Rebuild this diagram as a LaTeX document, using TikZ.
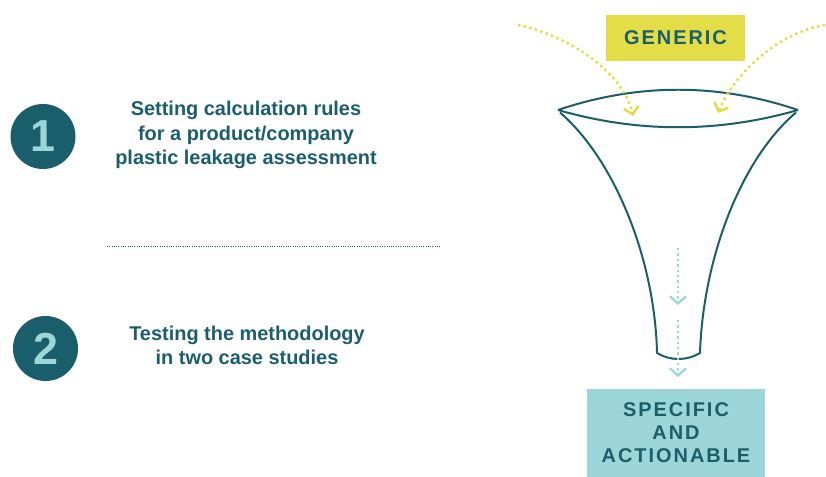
\documentclass[tikz,border=0pt]{standalone}
\usepackage{fontspec}
\setmainfont{Liberation Sans}
\newfontfamily\spacedfont[LetterSpace=10]{Liberation Sans}
\usetikzlibrary{arrows.meta}
\definecolor{darkteal}{HTML}{1B5E6B}
\definecolor{lightteal}{HTML}{9DD6D8}
\definecolor{mustard}{HTML}{E3DD47}
\tikzset{
  stepnum/.style={circle,fill=darkteal,minimum size=65bp,inner sep=0pt,text=lightteal,font=\bfseries\fontsize{45}{45}\selectfont},
  steptext/.style={align=center,text=darkteal,font=\bfseries\fontsize{20}{24.5}\selectfont},
  stagebox/.style={inner sep=0pt,text=darkteal,align=center,font=\spacedfont\bfseries\fontsize{20}{23}\selectfont},
  inflow/.style={mustard,line width=2.6pt,dash pattern=on 2.4pt off 3.4pt,-{Straight Barb[length=7bp,width=15bp,line width=2.6pt]}},
  outflow/.style={lightteal,line width=2.2pt,dash pattern=on 2.4pt off 3pt,-{Straight Barb[length=7bp,width=16bp,line width=2.4pt]}},
  funnel/.style={darkteal,line width=2pt},
}
\begin{document}
\begin{tikzpicture}[>=latex,line join=bevel,]
\useasboundingbox (0bp,0bp) rectangle (826bp,477bp);
%%
\node (step_1) at (43.0bp,340.5bp) [stepnum] {1};
  \node (step_2) at (45.5bp,128.5bp) [stepnum] {2};
  \node (text_1) at (246.0bp,342.0bp) [steptext] {Setting calculation rules\\for a product/company\\plastic leakage assessment};
  \node (text_2) at (247.0bp,131.5bp) [steptext] {Testing the methodology\\in two case studies};
  \coordinate (sep_a) at (107.0bp,230.3bp);
  \coordinate (sep_b) at (440.0bp,230.3bp);
  \draw [darkteal,line width=1.5pt,dash pattern=on 1pt off 1.3pt] (sep_a) -- (sep_b);
%
\node (generic) at (675.5bp,439.0bp) [stagebox,fill=mustard,minimum width=139bp,minimum height=46bp] {GENERIC};
  \node (specific) at (676.0bp,44.0bp) [stagebox,fill=lightteal,minimum width=178bp,minimum height=88bp] {SPECIFIC\\AND\\ACTIONABLE};
%
\coordinate (rim_w) at (558.0bp,367.0bp);
  \coordinate (rim_e) at (798.0bp,367.0bp);
  \coordinate (neck_w) at (657.0bp,124.0bp);
  \coordinate (neck_e) at (700.0bp,124.0bp);
  \draw [funnel] (rim_w) ..controls (638.0bp,394.0bp) and (718.0bp,394.0bp)  .. (rim_e);
  \draw [funnel] (rim_w) ..controls (638.0bp,344.0bp) and (718.0bp,344.0bp)  .. (rim_e);
  \draw [funnel] (560.0bp,364.5bp) ..controls (615.0bp,317.0bp) and (655.0bp,217.0bp)  .. (neck_w)
    ..controls (670.0bp,116.0bp) and (687.0bp,116.0bp)  .. (neck_e)
    ..controls (703.0bp,217.0bp) and (740.0bp,317.0bp)  .. (796.0bp,364.5bp);
%
\coordinate (in_w) at (518.0bp,452.0bp);
  \coordinate (in_w_end) at (633.0bp,361.0bp);
  \coordinate (in_e) at (825.0bp,452.0bp);
  \coordinate (in_e_end) at (718.0bp,364.0bp);
  \draw [inflow] (in_w) ..controls (575.0bp,440.0bp) and (625.0bp,400.0bp)  .. (in_w_end);
  \draw [inflow] (in_e) ..controls (780.0bp,445.0bp) and (735.0bp,405.0bp)  .. (in_e_end);
%
\coordinate (out_a) at (678.0bp,229.0bp);
  \coordinate (out_b) at (678.0bp,172.0bp);
  \coordinate (out_c) at (678.0bp,157.0bp);
  \coordinate (out_d) at (678.0bp,100.0bp);
  \draw [outflow] (out_a) -- (out_b);
  \draw [outflow] (out_c) -- (out_d);
%
\end{tikzpicture}
\end{document}
